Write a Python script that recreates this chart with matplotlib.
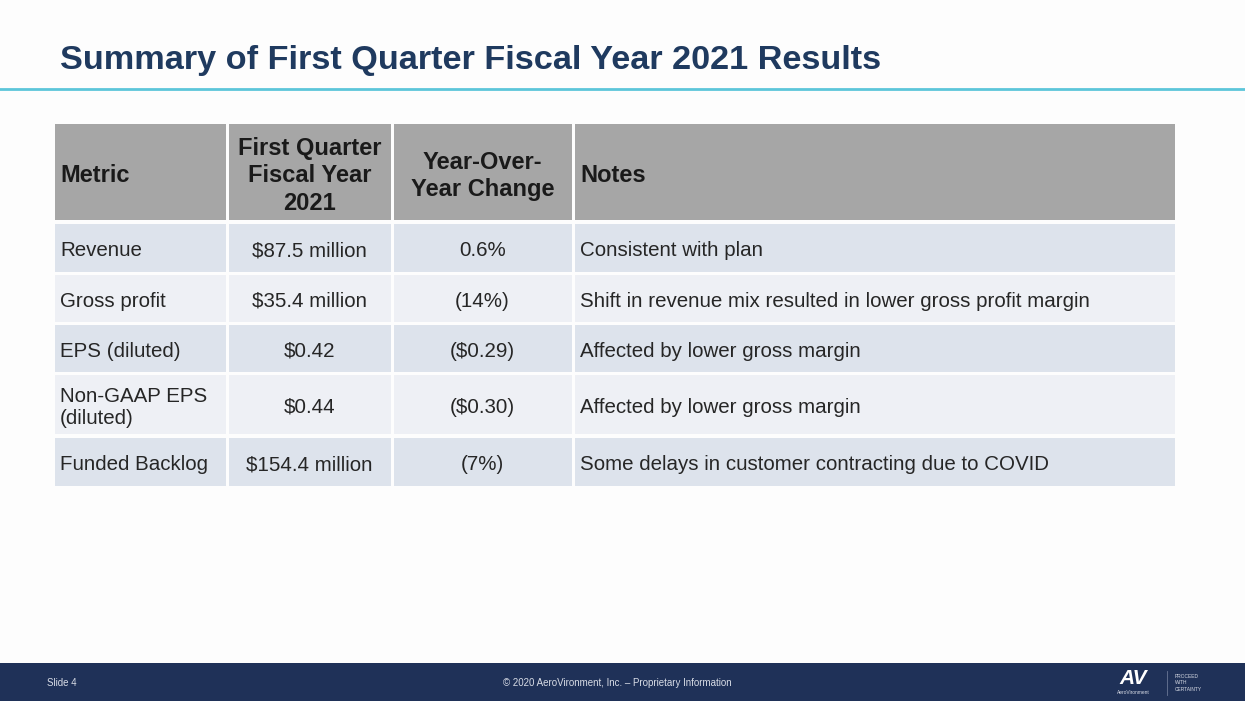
import matplotlib.pyplot as plt
from matplotlib.patches import Rectangle

plt.rcParams['font.family'] = ['Liberation Sans', 'DejaVu Sans']

# Table content
title = "Summary of First Quarter Fiscal Year 2021 Results"
headers = ["Metric", "First Quarter\nFiscal Year\n2021", "Year-Over-\nYear Change", "Notes"]
metrics = ["Revenue", "Gross profit", "EPS (diluted)", "Non-GAAP EPS\n(diluted)", "Funded Backlog"]
q1_values = ["$87.5 million", "$35.4 million", "$0.42", "$0.44", "$154.4 million"]
yoy_change = ["0.6%", "(14%)", "($0.29)", "($0.30)", "(7%)"]
notes = ["Consistent with plan",
         "Shift in revenue mix resulted in lower gross profit margin",
         "Affected by lower gross margin",
         "Affected by lower gross margin",
         "Some delays in customer contracting due to COVID"]

# Layout (pixels)
W, H = 1245, 701
col_edges = [53, 227, 392, 573, 1176]
header_box = (124, 220)
row_boxes = [(224, 272), (275, 322), (325, 372), (375, 434), (438, 486)]
row_colors = ["#dde3ec", "#eef0f5"]
gap = 1.5

fig = plt.figure(figsize=(W / 100, H / 100), dpi=100)
ax = fig.add_axes([0, 0, 1, 1])
ax.set_xlim(0, W)
ax.set_ylim(H, 0)
ax.axis('off')
fig.patch.set_facecolor('#fdfdfd')

# title and rule
ax.text(60, 61, title, fontsize=24.7, fontweight='bold', color='#1f3a5f',
        va='center', ha='left')
ax.plot([0, W], [89, 89], color='#5cc6da', lw=2)


def cell(x0, x1, y0, y1, color):
    ax.add_patch(Rectangle((x0 + gap, y0), x1 - x0 - 2 * gap, y1 - y0,
                           facecolor=color, edgecolor='none'))


# header row
for i, h in enumerate(headers):
    x0, x1 = col_edges[i], col_edges[i + 1]
    cell(x0, x1, header_box[0], header_box[1], '#a6a6a6')
    yc = (header_box[0] + header_box[1]) / 2 + 4
    if i in (1, 2):
        ax.text((x0 + x1) / 2, yc, h, fontsize=17, fontweight='bold', color='#1a1a1a',
                ha='center', va='center', linespacing=1.24)
    else:
        ax.text(x0 + 7, yc, h, fontsize=17, fontweight='bold', color='#1a1a1a',
                ha='left', va='center')

# body rows
for r, (y0, y1) in enumerate(row_boxes):
    color = row_colors[r % 2]
    yc = (y0 + y1) / 2 + 3
    vals = [metrics[r], q1_values[r], yoy_change[r], notes[r]]
    for i, v in enumerate(vals):
        x0, x1 = col_edges[i], col_edges[i + 1]
        cell(x0, x1, y0, y1, color)
        if i in (1, 2):
            ax.text((x0 + x1) / 2, yc, v, fontsize=14.8, color='#262626',
                    ha='center', va='center')
        else:
            ax.text(x0 + 7, yc, v, fontsize=14.8, color='#262626',
                    ha='left', va='center', linespacing=1.24)

# footer
ax.add_patch(Rectangle((0, 663), W, H - 663, facecolor='#1f3158', edgecolor='none'))
ax.text(47, 683, "Slide 4", fontsize=7, color='#d8dce6', ha='left', va='center')
ax.text(617, 683, "\u00a9 2020 AeroVironment, Inc. \u2013 Proprietary Information",
        fontsize=7, color='#d8dce6', ha='center', va='center')
ax.text(1133, 679, "AV", fontsize=15, fontweight='bold', fontstyle='italic',
        color='white', ha='center', va='center')
ax.text(1133, 692, "AeroVironment", fontsize=3.5, color='#d8dce6', ha='center', va='center')
ax.plot([1167, 1167], [671, 695], color='#6a7796', lw=0.6)
ax.text(1175, 683, "PROCEED\nWITH\nCERTAINTY", fontsize=3.5, color='#d8dce6',
        ha='left', va='center', linespacing=1.3)

fig.savefig('out.png', dpi=100, facecolor=fig.get_facecolor())
